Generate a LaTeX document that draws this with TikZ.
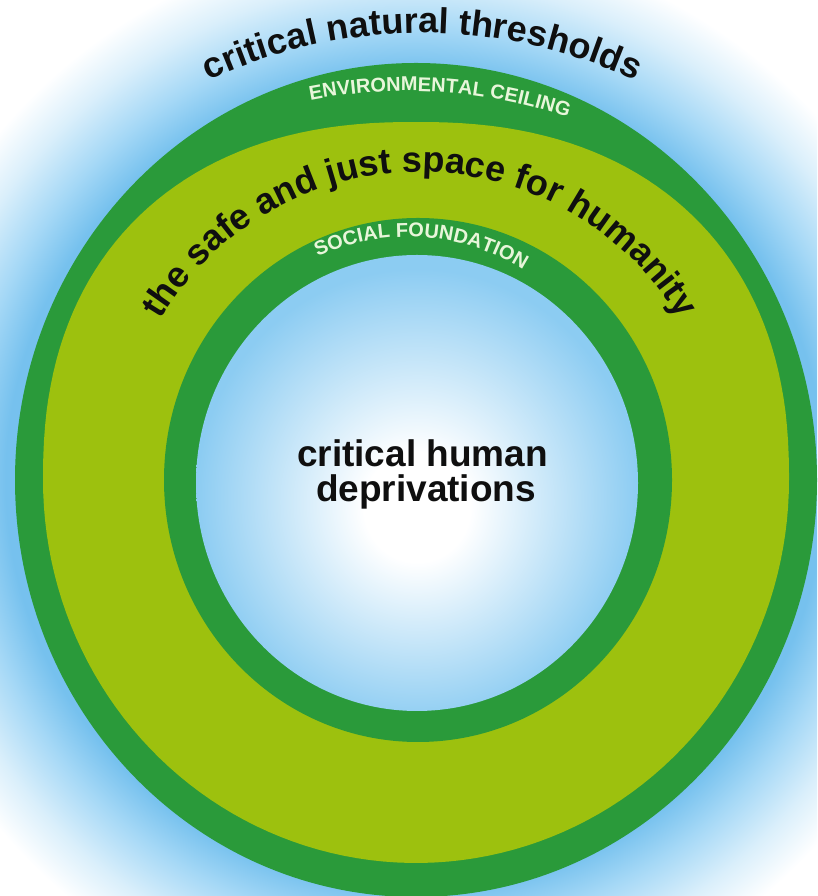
\documentclass[tikz,border=0pt]{standalone}
\usepackage{fontspec}
\setmainfont{Liberation Sans}
\usetikzlibrary{decorations.text}
\definecolor{ringdark}{RGB}{42,154,58}
\definecolor{ringlight}{RGB}{157,193,14}
\definecolor{halob}{RGB}{118,193,238}
\definecolor{halobb}{RGB}{165,216,246}
\definecolor{halobc}{RGB}{218,239,251}
\definecolor{innerb}{RGB}{140,204,242}
\definecolor{labelc}{RGB}{232,246,218}
\definecolor{inkc}{RGB}{15,15,15}
\pgfdeclareradialshading{halo}{\pgfpoint{0bp}{0bp}}{color(0bp)=(halob); color(16bp)=(halob); color(17.6bp)=(halobb); color(19.5bp)=(halobc); color(21.2bp)=(white); color(50bp)=(white)}
\pgfdeclareradialshading{innerglow}{\pgfpoint{0bp}{-3bp}}{color(0bp)=(white); color(6bp)=(white); color(25bp)=(innerb); color(50bp)=(innerb)}
\begin{document}
\begin{tikzpicture}[x=1pt,y=1pt,
  centertext/.style={font=\fontsize{37}{37}\selectfont\bfseries, text=inkc, anchor=base, inner sep=0pt},
  bigarc/.style={decorate, decoration={text along path, text align=center,
      text={|\fontsize{36}{36}\selectfont\bfseries\color{inkc}|#1}}},
  bandarc/.style={decorate, decoration={text along path, text align=center,
      text={|\fontsize{20}{20}\selectfont\bfseries\color{labelc}|#1}}}]
\useasboundingbox (0,0) rectangle (817,896);
\clip (0,0) rectangle (817,896);
\fill[white] (0,0) rectangle (817,896);
% blue halo
\shade[shading=halo] (415,416) circle[radius=640];
% outer environmental ceiling band
\fill[ringdark] (416,416) ellipse[x radius=401, y radius=417];
% safe and just space (flattened top, elliptic bottom)
\fill[ringlight]
  plot[domain=0.5:179.5, samples=90, variable=\t]
    ({416+373*sign(cos(\t))*pow(max(abs(cos(\t)),0.0001),0.8696)},
     {416+358*pow(max(abs(sin(\t)),0.0001),0.8696)})
  -- plot[domain=180:360, samples=90, variable=\t]
    ({416+373*cos(\t)}, {416+383*sin(\t)}) -- cycle;
% social foundation band
\fill[ringdark] (418,416) ellipse[x radius=254, y radius=262];
% inner deprivation zone
\shade[shading=innerglow] (417,413) ellipse[x radius=221, y radius=228];
% curved texts
\path[bigarc={critical natural thresholds}] (422,363) ++(125:500) arc[start angle=125, end angle=55, radius=500];
\path[bandarc={ENVIRONMENTAL CEILING}] (407,303) ++(111.2:502) arc[start angle=111.2, end angle=61.2, radius=502];
\path[bigarc={the safe and just space for humanity}] (420,422) ++(170:302) arc[start angle=170, end angle=10, radius=302];
\path[bandarc={SOCIAL FOUNDATION}] (408,441) ++(126.3:218) arc[start angle=126.3, end angle=46.3, radius=218];
% centre text
\node[centertext] (c1) at (422.5,429) {critical human};
\node[centertext] (c2) at (426,394) {deprivations};
\end{tikzpicture}
\end{document}
